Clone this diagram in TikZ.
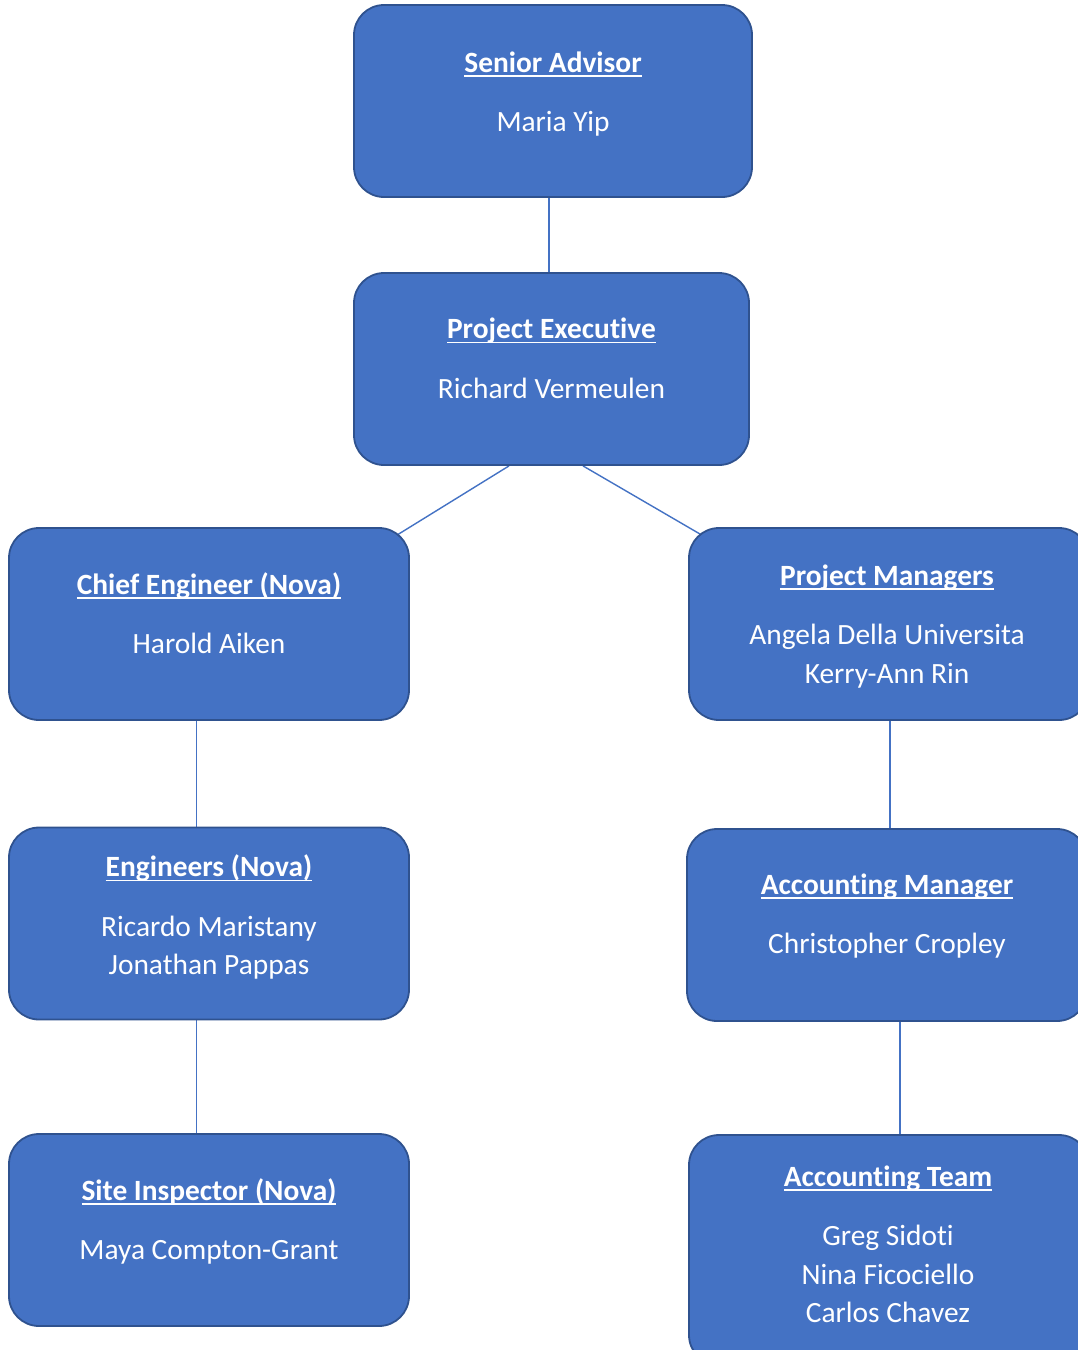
\documentclass[tikz,border=0pt]{standalone}
\usepackage{fontspec}
\setmainfont{Carlito}[Ligatures=NoCommon]
\usetikzlibrary{positioning,backgrounds}
\definecolor{boxblue}{HTML}{4472C4}
\definecolor{boxedge}{HTML}{2F528F}
\newsavebox\hdrbox
\newcommand\hdr[1]{\sbox\hdrbox{\bfseries #1}\rule{0pt}{25pt}\rlap{\rule[-4.5pt]{\wd\hdrbox}{1.8pt}}\usebox\hdrbox}

\begin{document}
\begin{tikzpicture}[x=1pt,y=1pt]
\tikzstyle{role}=[rectangle,rounded corners=30pt,draw=boxedge,line width=1.8pt,
fill=boxblue,minimum width=400pt,minimum height=192pt,inner sep=0pt]
\tikzstyle{txt}=[inner sep=0pt,align=center,text=white,
font=\fontsize{29.4}{38.5}\selectfont]
\tikzstyle{link}=[draw=boxblue,line width=1.4pt]

\useasboundingbox (0,0) rectangle (1078,-1350);
\clip (0,0) rectangle (1078,-1350);

\node[role,minimum width=398pt] at (553,-101) (sa) {};
\node[role,minimum width=395pt,node distance=268pt,below of=sa,xshift=-1.5pt] (pe) {};
\node[role,node distance=255pt,below of=pe,xshift=-342.5pt] (chief) {};
\node[role,node distance=680pt,right of=chief] (pm) {};
\node[role,node distance=299.5pt,below of=chief] (eng) {};
\node[role,node distance=306.5pt,below of=eng] (site) {};
\node[role,node distance=301pt,below of=pm,xshift=-2pt] (am) {};
\node[role,minimum height=230pt,node distance=325pt,below of=am,xshift=2pt] (team) {};

\node[txt,below=43pt of sa.north] (sa-t) {\hdr{Senior Advisor}\\[21pt]Maria Yip};
\node[txt,below=41.5pt of pe.north] (pe-t) {\hdr{Project Executive}\\[21pt]Richard Vermeulen};
\node[txt,below=42pt of chief.north] (chief-t) {\hdr{Chief Engineer (Nova)}\\[21pt]Harold Aiken};
\node[txt,below=33pt of pm.north,xshift=-2pt] (pm-t) {\hdr{Project Managers}\\[21pt]Angela Della Universita\\Kerry-Ann Rin};
\node[txt,below=25pt of eng.north] (eng-t) {\hdr{Engineers (Nova)}\\[21pt]Ricardo Maristany\\Jonathan Pappas};
\node[txt,below=41pt of am.north] (am-t) {\hdr{Accounting Manager}\\[21pt]Christopher Cropley};
\node[txt,below=42pt of site.north] (site-t) {\hdr{Site Inspector (Nova)}\\[21pt]Maya Compton-Grant};
\node[txt,below=27pt of team.north,xshift=-1pt] (team-t) {\hdr{Accounting Team}\\[21pt]Greg Sidoti\\Nina Ficociello\\Carlos Chavez};

\begin{pgfonlayer}{background}
\fill[white] (0,0) rectangle (1078,-1350);
\path[link] ([xshift=-4pt]sa.south) edge ([xshift=-2.5pt]pe.north);
\path[link,shorten >=-16pt] ([xshift=-42.5pt]pe.south) edge (chief.north east);
\path[link,shorten >=-16pt] ([xshift=31.5pt]pe.south) edge (pm.north west);
\path[link] ([xshift=-12.5pt]chief.south) edge ([xshift=-12.5pt]eng.north);
\path[link] ([xshift=-12.5pt]eng.south) edge ([xshift=-12.5pt]site.north);
\path[link] ([xshift=1pt]pm.south) edge ([xshift=3pt]am.north);
\path[link] ([xshift=13pt]am.south) edge ([xshift=11pt]team.north);
\end{pgfonlayer}

\end{tikzpicture}
\end{document}
